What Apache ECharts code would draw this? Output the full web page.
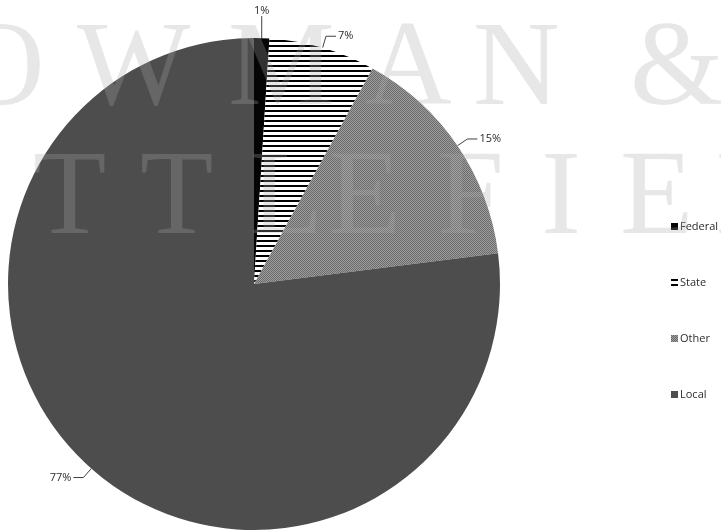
<!DOCTYPE html>
<html>
<head>
<meta charset="utf-8">
<script src="https://cdn.jsdelivr.net/npm/echarts@6/dist/echarts.min.js"></script>
<style>
html,body{margin:0;padding:0;background:#fff;}
#chart{width:721px;height:532px;}
</style>
</head>
<body>
<div id="chart"></div>
<script>
// ---- data ----
var categories = ['Federal', 'State', 'Other', 'Local'];
var shares = [1, 7, 15, 77];

// ---- watermark letters (decorative) ----
var wmLine1 = ['O', 'W', 'M', 'A', 'N', '&'];
var wmLine1X = [-42, 77, 228, 365, 473, 630];
var wmLine2 = ['T', 'T', 'L', 'E', 'F', 'I', 'E', 'L'];
var wmLine2X = [33, 140, 250, 328, 437, 541, 620, 716];

function makeStripes() {
  var c = document.createElement('canvas');
  c.width = 8; c.height = 5;
  var g = c.getContext('2d');
  g.fillStyle = '#ffffff'; g.fillRect(0, 0, 8, 5);
  g.fillStyle = '#000000'; g.fillRect(0, 0, 8, 2);
  return c;
}
function makeDots() {
  var c = document.createElement('canvas');
  c.width = 2; c.height = 2;
  var g = c.getContext('2d');
  g.fillStyle = '#9e9e9e'; g.fillRect(0, 0, 2, 2);
  g.fillStyle = '#6a6a6a'; g.fillRect(0, 0, 1, 1); g.fillRect(1, 1, 1, 1);
  return c;
}

var fills = [
  '#050505',
  { image: makeStripes(), repeat: 'repeat' },
  { image: makeDots(), repeat: 'repeat' },
  '#4d4d4d'
];

var pieData = categories.map(function (name, i) {
  return { name: name, value: shares[i], itemStyle: { color: fills[i] } };
});

var wmStyle = { fill: 'rgba(170,170,170,0.28)', font: '120px "Liberation Serif", serif', textVerticalAlign: 'top' };
var graphics = [];
wmLine1.forEach(function (ch, i) {
  graphics.push({ type: 'text', z: 100, silent: true,
    style: Object.assign({ text: ch, x: 0, y: 0 }, wmStyle),
    x: wmLine1X[i], y: 12 });
});
wmLine2.forEach(function (ch, i) {
  graphics.push({ type: 'text', z: 100, silent: true,
    style: Object.assign({ text: ch, x: 0, y: 0 }, wmStyle),
    x: wmLine2X[i], y: 141 });
});

var chart = echarts.init(document.getElementById('chart'), null, { renderer: 'canvas' });
chart.setOption({
  animation: false,
  backgroundColor: '#ffffff',
  graphic: graphics,
  legend: {
    orient: 'vertical',
    left: 666,
    top: 216,
    itemWidth: 7,
    itemHeight: 7,
    itemGap: 45,
    icon: 'rect',
    data: categories,
    textStyle: { fontFamily: '"Open Sans", sans-serif', fontSize: 11, color: '#2b2b2b', padding: [0, 0, 0, -3] }
  },
  series: [{
    type: 'pie',
    center: [254, 284],
    radius: [0, 246],
    startAngle: 90,
    clockwise: true,
    avoidLabelOverlap: false,
    minShowLabelAngle: 0,
    data: pieData,
    itemStyle: { borderWidth: 0 },
    label: {
      show: true,
      position: 'outside',
      formatter: '{c}%',
      fontFamily: '"Open Sans", sans-serif',
      fontSize: 11,
      color: '#2b2b2b',
      distanceToLabelLine: 2
    },
    labelLine: {
      show: true,
      length: 12,
      length2: 10,
      smooth: false,
      lineStyle: { color: '#404040', width: 1 }
    },
    labelLayout: function (p) {
      if (p.dataIndex === 0 && p.labelLinePoints) {
        var s = p.labelLinePoints[0];
        return {
          x: s[0], y: s[1] - 22,
          align: 'center', verticalAlign: 'bottom',
          labelLinePoints: [[s[0], s[1]], [s[0], s[1] - 11], [s[0], s[1] - 22]]
        };
      }
    },
    emphasis: { disabled: true }
  }]
});
</script>
</body>
</html>
